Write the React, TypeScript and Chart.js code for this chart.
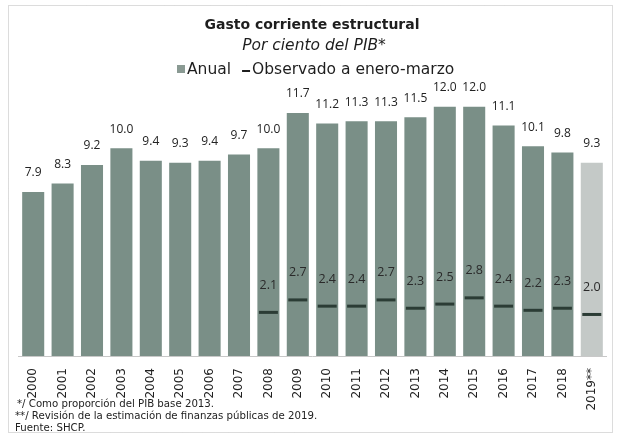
import { useEffect, useRef } from "react";
import { Chart, registerables } from "chart.js";
Chart.register(...registerables);

const years = ["2000","2001","2002","2003","2004","2005","2006","2007","2008","2009","2010","2011","2012","2013","2014","2015","2016","2017","2018","2019**"];
const anual = [7.9, 8.3, 9.2, 10.0, 9.4, 9.3, 9.4, 9.7, 10.0, 11.7, 11.2, 11.3, 11.3, 11.5, 12.0, 12.0, 11.1, 10.1, 9.8, 9.3];
const observado = [null, null, null, null, null, null, null, null, 2.1, 2.7, 2.4, 2.4, 2.7, 2.3, 2.5, 2.8, 2.4, 2.2, 2.3, 2.0];
const titleText = "Gasto corriente estructural";
const subtitleText = "Por ciento del PIB*";
const legendAnual = "Anual";
const legendObs = "Observado a enero-marzo";
const footnotes = [
  "*/ Como proporción del PIB base 2013.",
  "**/ Revisión de la estimación de finanzas públicas de 2019.",
  "Fuente: SHCP.",
];

const BAR = "#7a8f87";
const BAR_LAST = "#c4c9c7";
const MARK = "#2b3c35";
const FONT = "'DejaVu Sans', sans-serif";
const NUMFONT = "'Open Sans', sans-serif";

export default function App() {
  const ref = useRef<HTMLCanvasElement>(null);
  useEffect(() => {
    const canvas = ref.current!;
    const deco = {
      id: "deco",
      afterDraw(chart: any) {
        const ctx = chart.ctx;
        ctx.save();
        // frame
        ctx.strokeStyle = "#b8b8b8";
        ctx.lineWidth = 1;
        ctx.setLineDash([1, 1]);
        ctx.strokeRect(8.5, 5.5, 604, 427);
        ctx.setLineDash([]);
        ctx.fillStyle = "#1e1e1e";
        ctx.textAlign = "center";
        ctx.textBaseline = "middle";
        ctx.font = `bold 14px ${FONT}`;
        ctx.fillText(titleText, 312, 25);
        ctx.font = `italic 15.5px ${FONT}`;
        ctx.fillText(subtitleText, 314, 46);
        // legend
        ctx.font = `15.5px ${FONT}`;
        const wA = ctx.measureText(legendAnual).width;
        let x = 177;
        const ly = 70;
        ctx.fillStyle = "#8a9a93";
        ctx.fillRect(x, ly - 5, 8, 8);
        x += 10;
        ctx.fillStyle = "#1e1e1e";
        ctx.textAlign = "left";
        ctx.fillText(legendAnual, x, ly);
        x += wA + 11;
        ctx.strokeStyle = "#1e1e1e";
        ctx.lineWidth = 2;
        ctx.beginPath();
        ctx.moveTo(x, ly + 1);
        ctx.lineTo(x + 8, ly + 1);
        ctx.stroke();
        x += 10;
        ctx.fillText(legendObs, x, ly);
        // value labels
        const m0 = chart.getDatasetMeta(0);
        const m1 = chart.getDatasetMeta(1);
        ctx.textAlign = "center";
        ctx.font = `12px ${NUMFONT}`;
        ctx.fillStyle = "#222";
        m0.data.forEach((el: any, i: number) => {
          ctx.fillText(anual[i].toFixed(1), el.x, el.y - 19);
        });
        ctx.font = `12.5px ${NUMFONT}`;
        ctx.fillStyle = "#2a2a2a";
        m1.data.forEach((el: any, i: number) => {
          const v = observado[i];
          if (v == null) return;
          ctx.fillText(v.toFixed(1), el.x, el.y - 27);
        });
        // footnotes
        ctx.textAlign = "left";
        ctx.font = `10.2px ${FONT}`;
        ctx.fillStyle = "#222";
        ctx.fillText(footnotes[0], 17, 404);
        ctx.fillText(footnotes[1], 15, 416);
        ctx.fillText(footnotes[2], 15, 428);
        ctx.restore();
      },
    };
    const chart = new Chart(canvas, {
      type: "bar",
      data: {
        labels: years,
        datasets: [
          {
            type: "bar",
            label: legendAnual,
            data: anual,
            backgroundColor: anual.map((_, i) => (i === anual.length - 1 ? BAR_LAST : BAR)),
            barPercentage: 0.75,
            categoryPercentage: 1,
            order: 2,
          },
          {
            type: "line",
            label: legendObs,
            data: observado as any,
            showLine: false,
            pointStyle: "line",
            pointRadius: 9.5,
            pointBorderWidth: 3,
            borderColor: MARK,
            backgroundColor: MARK,
            order: 1,
          } as any,
        ],
      },
      options: {
        responsive: false,
        animation: false,
        layout: { padding: { left: 18.5, right: 9.5, top: 86, bottom: 25 } },
        plugins: { legend: { display: false }, tooltip: { enabled: false }, title: { display: false } },
        scales: {
          x: {
            grid: { display: false },
            border: { display: true, color: "#c8c8c8" },
            ticks: { minRotation: 90, maxRotation: 90, color: "#222", font: { family: FONT, size: 12 }, padding: 4, autoSkip: false },
            afterFit: (s: any) => { s.height = 56; },
          },
          y: { display: false, min: 0, max: 13 },
        },
      },
      plugins: [deco],
    });
    return () => chart.destroy();
  }, []);
  return (
    <div style={{ position: "absolute", left: 0, top: 0, width: 619, height: 437, background: "#fff" }}>
      <canvas ref={ref} width={619} height={437} />
    </div>
  );
}
